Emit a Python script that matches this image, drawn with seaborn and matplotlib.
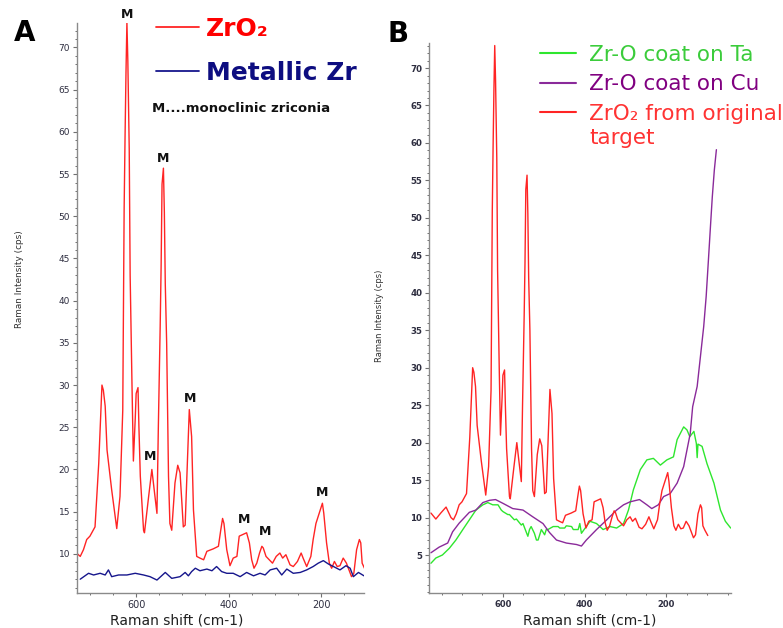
import matplotlib
matplotlib.use("Agg")
import matplotlib.pyplot as plt
import seaborn as sns
import pandas as pd
from matplotlib.ticker import MultipleLocator, FixedLocator

# ---------------- data ----------------
zro2_shift = [776, 764, 752, 739, 727, 721, 714, 707, 700, 689, 681, 674, 671, 667, 663,
              653, 642, 635, 629, 626, 624, 622, 620, 618, 615, 613, 609, 606, 602, 600,
              596, 594, 591, 584, 582, 573, 566, 561, 555, 552, 548, 546, 544, 541, 539,
              537, 534, 530, 527, 523, 516, 510, 505, 501, 498, 494, 489, 485, 480, 476,
              469, 462, 454, 447, 433, 422, 417, 413, 410, 404, 397, 390, 382, 377, 369,
              361, 355, 350, 345, 339, 333, 328, 325, 319, 312, 305, 297, 289, 283, 276,
              267, 260, 251, 243, 238, 231, 222, 217, 211, 204, 197, 194, 188, 182, 177,
              171, 165, 159, 152, 145, 134, 129, 123, 117, 114, 111, 106, 99]
zro2_int = [10.6, 9.8, 10.6, 11.4, 10.0, 9.7, 10.5, 11.7, 12.1, 13.2, 20.7, 30.0, 29.4, 27.5, 22.3,
            17.6, 13.0, 16.8, 27.0, 50.9, 59.5, 67.0, 73.0, 68.4, 58.0, 43.0, 30.0, 21.0, 26.0, 29.0,
            29.7, 25.0, 19.2, 12.8, 12.5, 16.8, 20.0, 17.6, 14.8, 25.0, 37.0, 44.0, 53.8, 55.7, 50.5,
            42.0, 35.0, 19.2, 13.6, 12.8, 18.4, 20.5, 19.6, 16.0, 13.2, 13.4, 21.1, 27.1, 23.9, 15.2,
            9.7, 9.5, 9.3, 10.3, 10.6, 10.9, 12.8, 14.2, 13.6, 10.5, 8.6, 9.5, 9.7, 12.1, 12.3,
            12.5, 11.3, 9.3, 8.3, 8.9, 10.1, 10.9, 10.7, 9.7, 9.3, 8.9, 9.7, 10.1, 9.5, 9.9,
            8.7, 8.5, 9.1, 10.1, 9.4, 8.5, 9.7, 11.7, 13.6, 14.8, 16.0, 14.8, 11.3, 8.9, 8.3,
            9.1, 8.5, 8.6, 9.5, 8.9, 7.3, 7.7, 10.5, 11.7, 11.3, 8.9, 8.3, 7.6]

zr_shift = [721, 703, 692, 678, 667, 660, 653, 638, 620, 602, 584, 570, 555, 537, 523,
            505, 494, 487, 480, 472, 462, 447, 436, 426, 415, 404, 390, 375, 361, 346,
            332, 321, 310, 296, 285, 274, 260, 245, 231, 217, 206, 195, 184, 173, 159,
            146, 137, 130, 119, 107]
zr_int = [7.0, 7.7, 7.5, 7.7, 7.5, 8.1, 7.3, 7.5, 7.5, 7.7, 7.5, 7.3, 6.9, 7.8, 7.1,
          7.3, 7.8, 7.4, 7.9, 8.3, 8.0, 8.2, 8.0, 8.5, 7.9, 7.7, 7.7, 7.3, 7.8, 7.4,
          7.7, 7.5, 8.1, 8.3, 7.5, 8.2, 7.7, 7.8, 8.1, 8.5, 8.9, 9.2, 8.8, 8.5, 8.1,
          8.6, 8.3, 7.3, 7.8, 7.4]

ta_shift = [776, 764, 748, 731, 715, 698, 682, 666, 649, 637, 625, 612, 604, 600, 588,
            584, 572, 567, 555, 551, 539, 535, 531, 523, 518, 514, 506, 498, 494, 490,
            477, 465, 461, 449, 445, 432, 428, 416, 412, 408, 387, 371, 355, 338, 322,
            305, 293, 281, 264, 248, 232, 215, 199, 183, 174, 158, 150, 143, 133, 127,
            125, 123, 113, 101, 84, 68, 56, 43]
ta_int = [3.9, 4.6, 5.0, 5.9, 7.0, 8.4, 9.7, 11.0, 11.7, 12.0, 11.7, 11.7, 11.0, 10.8, 10.4,
          10.4, 9.7, 9.8, 9.0, 9.2, 7.5, 8.4, 8.8, 7.9, 7.0, 7.0, 8.4, 7.7, 8.4, 8.4,
          8.8, 8.8, 8.6, 8.6, 8.9, 8.8, 8.4, 8.4, 9.2, 7.9, 9.5, 9.2, 8.4, 8.8, 8.6,
          9.2, 11.0, 13.7, 16.4, 17.7, 17.9, 17.0, 17.7, 18.1, 20.4, 22.1, 21.7, 20.8, 21.5, 19.9,
          18.0, 19.8, 19.5, 17.2, 14.6, 11.0, 9.5, 8.6]

cu_shift = [776, 756, 735, 723, 707, 682, 666, 649, 633, 618, 600, 576, 551, 527, 502,
            486, 469, 445, 420, 408, 396, 371, 346, 322, 305, 289, 266, 248, 236, 220,
            207, 191, 174, 158, 142, 136, 125, 117, 109, 103, 97, 92, 88, 83, 78]
cu_int = [5.3, 6.05, 6.6, 8.1, 9.25, 10.7, 11.0, 12.0, 12.3, 12.4, 11.9, 11.2, 11.0, 10.1, 9.2,
          8.0, 7.0, 6.6, 6.4, 6.2, 7.0, 8.4, 9.7, 11.0, 11.7, 12.1, 12.4, 11.7, 11.2, 11.7,
          12.8, 13.2, 14.6, 16.8, 21.2, 24.8, 27.5, 31.5, 35.5, 39.5, 44.8, 49.3, 52.8, 56.4, 59.1]

# "M" (monoclinic) peak markers in panel A
m_shift = [620, 541, 570, 483, 366, 320, 197]
m_int = [73.9, 56.8, 21.5, 28.4, 14.1, 12.6, 17.3]

x_ticks = [600, 400, 200]
yA_ticks = list(range(10, 71, 5))
yB_ticks = list(range(5, 71, 5))

legendA_labels = ["ZrO₂", "Metallic Zr"]
legendB_labels = ["Zr-O coat on Ta", "Zr-O coat on Cu", "ZrO₂ from original"]

# ---------------- style ----------------
sns.set_theme(style="ticks")
plt.rcParams["font.family"] = ["DejaVu Sans"]

RED = "#ff2424"
NAVY = "#16168c"
GREEN = "#2ee62e"
PURPLE = "#8a2a9a"
TICKC = "#2e2e40"

W, H = 783, 628
fig = plt.figure(figsize=(W / 100, H / 100), dpi=100)
axA = fig.add_axes([77 / W, 1 - 592.7 / H, 287 / W, 569.7 / H])
axB = fig.add_axes([429.3 / W, 1 - 592.7 / H, 301.4 / W, 549.4 / H])

dfA = pd.DataFrame({"x": zro2_shift, "y": zro2_int})
dfZ = pd.DataFrame({"x": zr_shift, "y": zr_int})
dfT = pd.DataFrame({"x": ta_shift, "y": ta_int})
dfC = pd.DataFrame({"x": cu_shift, "y": cu_int})

# Panel A
sns.lineplot(data=dfA, x="x", y="y", ax=axA, color=RED, lw=1.0, estimator=None,
             label=legendA_labels[0])
sns.lineplot(data=dfZ, x="x", y="y", ax=axA, color=NAVY, lw=1.0, estimator=None,
             label=legendA_labels[1])
# Panel B
sns.lineplot(data=dfT, x="x", y="y", ax=axB, color=GREEN, lw=1.0, estimator=None,
             label=legendB_labels[0])
sns.lineplot(data=dfC, x="x", y="y", ax=axB, color=PURPLE, lw=1.0, estimator=None,
             label=legendB_labels[1])
sns.lineplot(data=dfA, x="x", y="y", ax=axB, color=RED, lw=1.0, estimator=None,
             label=legendB_labels[2])

axA.set_xlim(728, 107)
axA.set_ylim(5.4, 72.9)
axB.set_xlim(780, 43)
axB.set_ylim(-0.03, 73.3)

for ax, yt in ((axA, yA_ticks), (axB, yB_ticks)):
    for s in ("top", "right"):
        ax.spines[s].set_visible(False)
    for s in ("left", "bottom"):
        ax.spines[s].set_color("#8a8a8a")
        ax.spines[s].set_linewidth(1.0)
    ax.xaxis.set_major_locator(FixedLocator(x_ticks))
    ax.xaxis.set_minor_locator(MultipleLocator(50))
    ax.yaxis.set_major_locator(FixedLocator(yt))
    ax.yaxis.set_minor_locator(MultipleLocator(1))
    ax.tick_params(which="major", length=3, width=0.8, color="#707070", pad=2,
                   labelcolor=TICKC)
    ax.tick_params(which="minor", length=1.6, width=0.7, color="#707070")
    ax.grid(False)
    ax.set_facecolor("white")

axA.tick_params(axis="x", labelsize=7)
axA.tick_params(axis="y", labelsize=6.5)
axB.tick_params(axis="x", labelsize=6)
axB.tick_params(axis="y", labelsize=6.2)
for lab in axB.get_xticklabels() + axB.get_yticklabels():
    lab.set_fontweight("bold")

axA.set_xlabel("Raman shift (cm-1)", fontsize=10, color="#202020", va="center")
axA.xaxis.set_label_coords((176.5 - 77) / 287, -(620 - 592.7) / 569.7)
axA.set_ylabel("Raman Intensity (cps)", fontsize=6.4, color="#303030", va="center")
axA.yaxis.set_label_coords((20 - 77) / 287, (592.7 - 279) / 569.7)

axB.set_xlabel("Raman shift (cm-1)", fontsize=10, color="#202020", va="center")
axB.xaxis.set_label_coords((589.5 - 429.3) / 301.4, -(620 - 592.7) / 549.4)
axB.set_ylabel("Raman Intensity (cps)", fontsize=6.0, color="#303030", va="center")
axB.yaxis.set_label_coords((380 - 429.3) / 301.4, (592.7 - 316) / 549.4)

# M annotations
for xs, yv in zip(m_shift, m_int):
    axA.text(xs, yv, "M", ha="center", va="center", fontsize=9, fontweight="bold",
             color="#111111", clip_on=False)

# Legend A
legA = axA.legend(loc="upper left", bbox_to_anchor=(156 / W, 1 - 17 / H),
                  bbox_transform=fig.transFigure, frameon=False, borderpad=0,
                  borderaxespad=0, handlelength=1.7, handletextpad=0.28,
                  labelspacing=0.78, prop={"size": 18, "weight": "bold"},
                  labelcolor=["#ff0000", "#0d0d80"])
for h in legA.legend_handles:
    h.set_linewidth(1.3)
fig.text(152 / W, 1 - 108 / H, "M....monoclinic zriconia", fontsize=9.5,
         fontweight="bold", color="#111111", ha="left", va="center")

# Legend B
legB = axB.legend(loc="upper left", bbox_to_anchor=(540 / W, 1 - 45 / H),
                  bbox_transform=fig.transFigure, frameon=False, borderpad=0,
                  borderaxespad=0, handlelength=1.67, handletextpad=0.6,
                  labelspacing=0.43, prop={"size": 15.5},
                  labelcolor=["#3bcc3b", "#800080", "#ff3333"])
for h in legB.legend_handles:
    h.set_linewidth(1.5)
fig.text(589.3 / W, 1 - 138 / H, "target", fontsize=15.5, color="#ff3333",
         ha="left", va="center")

# panel letters
fig.text(25 / W, 1 - 33 / H, "A", fontsize=20, fontweight="bold", ha="center",
         va="center", color="black")
fig.text(398 / W, 1 - 34 / H, "B", fontsize=20, fontweight="bold", ha="center",
         va="center", color="black")

fig.savefig("out.png", dpi=100, facecolor="white")
